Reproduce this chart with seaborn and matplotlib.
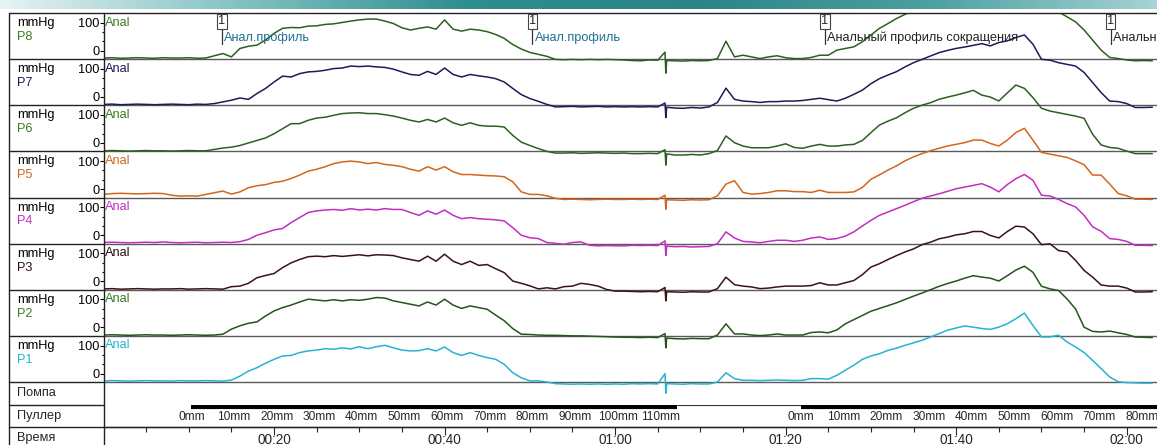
import numpy as np
import pandas as pd
import matplotlib
matplotlib.use("Agg")
import matplotlib.pyplot as plt
from matplotlib.colors import LinearSegmentedColormap
from matplotlib.transforms import blended_transform_factory
import seaborn as sns

# anal manometry pull-through, one sample per second (mmHg),
# plus three close samples around the artefact spike near 66 s
sec = list(range(0, 66)) + [65.85, 65.95, 66.05] + list(range(67, 124))

p8 = [-26, -25, -27, -26, -25, -26, -27, -25, -26, -26, -25, -27, -26,
      -18, -10, -22, 8, 16, 20, 38, 62, 80, 83, 82, 88, 89, 94, 96, 101, 106, 110, 113, 113, 106, 97,
      82, 74, 80, 85, 77, 110, 77, 70, 77, 74, 68, 58, 44, 22, 6, -6, -13, -20, -31,
      -32, -31, -32, -31, -32, -31, -32, -33,
      -35, -36, -33, -34, -5, -80, -35, -36, -37, -35, -36, -35, -28, 34, -22, -16, -22, -28, -22, -18, -25, -28,
      -28, -24, -16, -16, 2, 8, 14, 32, 56, 80, 97, 115, 130, 142,
      150, 158, 165, 172, 178, 184, 190, 194, 196, 198, 200, 196, 188, 176, 162, 150,
      139, 121, 103, 74, 38, 2, -24, -28, -33, -36, -35, -36]
p7 = [-27, -26, -28, -27, -26, -27, -28, -27, -26, -27, -28, -26, -27,
      -24, -18, -12, -4, -9, 12, 30, 53, 74, 71, 83, 89, 91, 95, 101, 103, 110, 108, 110, 107, 105, 99,
      89, 80, 77, 91, 80, 103, 80, 71, 80, 75, 71, 65, 53, 30, 8, -6, -16, -27, -36,
      -35, -34, -36, -35, -34, -36, -35, -36,
      -35, -36, -35, -36, -22, -74, -37, -40, -41, -38, -40, -36, -20, 31, -9, -15, -17, -20, -17, -17, -15, -15,
      -13, -9, -5, -10, -15, -5, 9, 24, 47, 65, 78, 90, 107, 122, 134, 146, 158, 166, 173, 178, 184,
      190, 182, 194, 200, 212, 221, 188, 134, 131, 122, 116, 110, 87, 51, 15, -15, -17, -24, -38, -38, -37]
p6 = [-28, -27, -28, -29, -28, -27, -28, -28, -29, -28, -27, -28, -28,
      -23, -18, -15, -9, 0, 9, 18, 33, 51, 69, 69, 81, 89, 92, 99, 105, 107, 108, 105, 105, 101, 96,
      89, 81, 75, 84, 75, 89, 72, 63, 72, 63, 60, 60, 57, 27, 3, -9, -20, -30, -36,
      -36, -35, -37, -36, -35, -36, -37, -36,
      -38, -38, -37, -38, -24, -79, -39, -43, -43, -41, -43, -38, -27, 25, 1, -11, -17, -17, -17, -11, -3, -16,
      -19, -11, -5, -11, -11, -7, -5, 9, 37, 64, 78, 90, 108, 124, 135, 144, 156, 164, 171, 179, 188,
      171, 164, 150, 179, 207, 195, 162, 124, 114, 108, 102, 96, 88, 31, -7, -16, -19, -29, -38, -38, -38]
p5 = [-19, -16, -15, -16, -17, -16, -15, -16, -22, -25, -24, -25, -19,
      -13, -7, -18, -10, 5, 12, 16, 24, 28, 38, 50, 64, 71, 80, 91, 97, 100, 97, 91, 95, 88, 85,
      80, 71, 64, 80, 68, 80, 62, 52, 52, 50, 48, 47, 44, 26, -10, -19, -19, -24, -33,
      -37, -36, -37, -38, -37, -36, -37, -37,
      -36, -37, -36, -37, -22, -72, -38, -39, -40, -38, -39, -38, -24, 18, 30, -12, -18, -16, -12, -6, -6, -9,
      -9, -12, -4, -12, -12, -12, -10, 6, 35, 51, 68, 83, 101, 115, 127, 137, 146, 154, 160, 166, 175,
      175, 163, 154, 175, 202, 217, 175, 131, 125, 119, 113, 101, 87, 50, 50, 18, -16, -24, -36, -36, -37]
p4 = [-26, -25, -26, -27, -26, -25, -26, -24, -26, -27, -26, -25, -27,
      -26, -25, -26, -23, -15, 0, 9, 19, 24, 45, 63, 81, 87, 90, 92, 89, 95, 90, 93, 90, 95, 92,
      92, 81, 71, 87, 75, 90, 71, 59, 63, 59, 57, 55, 51, 27, 0, -9, -12, -26, -29,
      -32, -26, -24, -36, -38, -37, -38, -38,
      -36, -37, -36, -37, -20, -72, -39, -41, -40, -42, -41, -40, -30, 12, -10, -22, -24, -27, -22, -18, -18, -22,
      -18, -10, -6, -15, -12, -3, 12, 33, 53, 71, 83, 95, 107, 120, 132, 140, 148, 157, 166, 172, 178,
      184, 172, 155, 181, 202, 217, 196, 143, 140, 128, 113, 101, 71, 30, 14, -12, -15, -22, -36, -36, -37]
p3 = [-27, -26, -28, -27, -26, -27, -28, -27, -27, -26, -28, -27, -26,
      -27, -28, -19, -17, -7, 13, 21, 28, 49, 66, 78, 88, 90, 88, 92, 89, 92, 95, 91, 95, 94, 92,
      84, 78, 72, 90, 72, 97, 72, 60, 72, 57, 60, 45, 31, 1, -7, -16, -27, -23, -27,
      -19, -17, -7, -11, -17, -29, -35, -35,
      -36, -37, -36, -37, -22, -70, -37, -38, -39, -37, -38, -38, -26, 15, -12, -17, -20, -26, -24, -20, -17, -17,
      -17, -15, -5, -13, -13, -5, 3, 24, 51, 63, 78, 92, 105, 116, 131, 140, 152, 158, 166, 170, 178,
      178, 164, 155, 178, 197, 194, 170, 131, 134, 110, 105, 75, 39, 15, -13, -17, -17, -24, -38, -38, -37]
p2 = [-27, -26, -27, -28, -27, -26, -27, -27, -28, -27, -26, -27, -28,
      -27, -24, -6, 6, 15, 20, 41, 59, 71, 80, 91, 101, 98, 95, 99, 95, 99, 97, 101, 107, 105, 95,
      89, 83, 77, 91, 80, 101, 80, 68, 77, 71, 65, 44, 24, -4, -24, -25, -27, -28, -28,
      -29, -30, -30, -31, -32, -33, -34, -35,
      -35, -36, -35, -36, -22, -73, -38, -40, -41, -39, -40, -40, -27, 13, -23, -23, -27, -29, -27, -23, -27, -27,
      -27, -18, -16, -19, -9, 13, 28, 43, 58, 68, 78, 88, 100, 112, 123, 135, 147, 157, 166, 176, 185,
      180, 176, 166, 185, 205, 219, 197, 147, 138, 132, 102, 66, 1, -14, -16, -13, -19, -25, -34, -35, -36]
p1 = [-26, -25, -26, -27, -26, -25, -26, -26, -27, -25, -26, -26, -25,
      -26, -27, -23, -9, 9, 21, 37, 51, 63, 65, 75, 81, 84, 89, 87, 92, 88, 96, 89, 96, 101, 92,
      84, 81, 82, 89, 81, 95, 75, 65, 75, 65, 57, 51, 33, 3, -15, -26, -26, -30, -36,
      -37, -38, -37, -38, -37, -38, -37, -38,
      -36, -37, -36, -37, 0, -70, -36, -37, -38, -36, -37, -37, -30, 3, -18, -24, -24, -25, -24, -23, -24, -25,
      -24, -18, -18, -20, -6, 12, 30, 51, 63, 71, 83, 91, 101, 110, 119, 131, 143, 155, 163, 170, 166,
      161, 158, 166, 178, 196, 216, 172, 131, 131, 137, 113, 95, 75, 47, 18, -12, -29, -32, -33, -34, -34]

channels = ["P8", "P7", "P6", "P5", "P4", "P3", "P2", "P1"]
values = [p8, p7, p6, p5, p4, p3, p2, p1]
line_colors = ["#2b6120", "#1c1c5a", "#2b6120", "#d4661c", "#c22ec2", "#3a1414", "#24561c", "#27b2d2"]
label_colors = ["#3a7d22", "#1c1c5a", "#3a7d22", "#d4661c", "#c22ec2", "#2b0f0f", "#3a7d22", "#27b2d2"]

markers = [13.9, 50.3, 84.6, 118.1]
marker_text = ["Анал.профиль", "Анал.профиль", "Анальный профиль сокращения", "Анальный профиль"]
marker_colors = ["#1f7090", "#1f7090", "#222222", "#222222"]

time_ticks = [20, 40, 60, 80, 100, 120]
time_labels = ["00:20", "00:40", "01:00", "01:20", "01:40", "02:00"]
pull_start = [10.3, 81.8]
pull_end = [67.2, 124.0]
pull_mm = [[0, 10, 20, 30, 40, 50, 60, 70, 80, 90, 100, 110],
           [0, 10, 20, 30, 40, 50, 60, 70, 80]]
pull_speed = 2.0  # mm per second

sns.set_theme(style="white")
plt.rcParams['font.family'] = ['Liberation Sans', 'DejaVu Sans']

W, H = 1157, 445
px_per_s = 8.527
px_per_mmHg = 0.28
row_px = 46.125
row_top = [13 + i * row_px for i in range(8)]
row_h = row_px / px_per_mmHg
t_max = (W - 103.5) / px_per_s
fs = 9.2

fig = plt.figure(figsize=(W / 100, H / 100), dpi=100)


def box(x0, y0, x1, y1):
    return [x0 / W, 1 - y1 / H, (x1 - x0) / W, (y1 - y0) / H]


# trace area: all channels stacked on one axis, each row 0 at its own level
ax = fig.add_axes(box(103.5, 13, W, 405))
ax.patch.set_alpha(0)
frames = []
for k, (name, vals) in enumerate(zip(channels, values)):
    level = (7 - k) * row_h + 30
    frames.append(pd.DataFrame({"sec": sec, "mmHg": vals, "channel": name,
                                "y": np.array(vals) + level}))
df = pd.concat(frames, ignore_index=True)

for k in range(8):
    ax.axhline(k * row_h, color="#5a5a5a", lw=1.0, zorder=1)

sns.lineplot(data=df, x="sec", y="y", hue="channel", hue_order=channels[::-1],
             palette=dict(zip(channels, line_colors)), estimator=None, legend=False,
             lw=1.1, ax=ax, zorder=3)
ax.set_xlim(0, t_max)
ax.set_ylim(-23 / px_per_mmHg, (382 - 13) / px_per_mmHg)
ax.set_xlabel("")
ax.set_ylabel("")
ax.set_xticks([])
major, minor, labels = [], [], []
for k in range(8):
    level = (7 - k) * row_h + 30
    major += [level, level + 100]
    labels += ["0", "100"]
    minor += [level + 33.3, level + 66.7]
ax.set_yticks(major, labels)
ax.set_yticks(minor, minor=True)
ax.tick_params(axis="y", which="both", left=True, direction="out", width=0.8,
               labelsize=fs, pad=0.3, colors="black")
ax.tick_params(axis="y", which="major", length=2.6)
ax.tick_params(axis="y", which="minor", length=1.8)
for s in ax.spines.values():
    s.set_visible(False)

# puller row
axp = fig.add_axes(box(103.5, 405, W, 427))
axp.patch.set_alpha(0)
axp.set_xlim(0, t_max)
axp.set_ylim(1, 0)
axp.axis("off")
axp.plot([pull_end[0], pull_start[1]], [0.0, 0.0], color="#333333", lw=0.8)
for s0, s1, mms in zip(pull_start, pull_end, pull_mm):
    axp.plot([s0, s1], [0.09, 0.09], color="black", lw=3.0, solid_capstyle="butt")
    for mm in mms:
        axp.text(s0 + mm / pull_speed, 0.56, f"{mm}mm", ha="center", va="center", fontsize=8.6)

# time row
axt = fig.add_axes(box(103.5, 427, W, 434))
axt.patch.set_alpha(0)
axt.set_xlim(0, t_max)
axt.set_yticks([])
axt.set_xticks(time_ticks, time_labels)
axt.set_xticks(np.arange(5, 124, 5), minor=True)
axt.tick_params(axis="x", which="both", top=True, bottom=False, labeltop=False,
                labelbottom=True, direction="in", width=0.8, labelsize=9.8, pad=-0.5)
axt.tick_params(axis="x", which="major", length=6)
axt.tick_params(axis="x", which="minor", length=3.6)
for name, s in axt.spines.items():
    s.set_visible(name == "top")
axt.spines["top"].set_linewidth(0.9)

# overlay in pixel coordinates for frame, labels and event markers
ov = fig.add_axes([0, 0, 1, 1])
ov.set_xlim(0, W)
ov.set_ylim(H, 0)
ov.axis("off")
ov.patch.set_alpha(0)

strip = LinearSegmentedColormap.from_list(
    "strip", ["#e6f3f3", "#86c4c4", "#2f8e90", "#2a8587", "#4a9fa0", "#a6d3d3"])
ov.imshow(np.linspace(0, 1, 256)[None, :], cmap=strip, extent=[0, W, 9, 0], aspect="auto")
ov.set_xlim(0, W)
ov.set_ylim(H, 0)

lc = "#222222"
ov.plot([9, W], [13, 13], color=lc, lw=1.0)
ov.plot([9, 9], [13, H], color=lc, lw=1.0)
ov.plot([103.5, 103.5], [13, H], color=lc, lw=1.0)
for y in row_top[1:] + [382, 405]:
    ov.plot([9, 103.5], [y, y], color=lc, lw=1.0)
ov.plot([9, W], [427, 427], color=lc, lw=1.0)

for k, name in enumerate(channels):
    top = row_top[k]
    ov.text(17, top + 10, "mmHg", fontsize=fs, va="center", color="black")
    ov.text(17, top + 24, name, fontsize=fs, va="center", color=label_colors[k])
    ov.text(105, top + 9.5, "Anal", fontsize=fs, va="center", color=label_colors[k])
ov.text(17, 393, "Помпа", fontsize=fs, va="center")
ov.text(17, 416, "Пуллер", fontsize=fs, va="center")
ov.text(17, 437.5, "Время", fontsize=fs, va="center")

trans = blended_transform_factory(ax.transData, ov.transData)
for t, txt, c in zip(markers, marker_text, marker_colors):
    ov.plot([t, t], [28.5, 44], color="#333333", lw=0.9, transform=trans)
    ov.text(t, 21.5, "1", fontsize=fs, ha="center", va="center", transform=trans,
            bbox=dict(boxstyle="square,pad=0.1", fc="white", ec="#444444", lw=0.8))
    ov.text(t + 0.25, 37.5, txt, fontsize=fs, va="center", color=c, transform=trans,
            clip_on=True)

fig.savefig("out.png", dpi=100)
